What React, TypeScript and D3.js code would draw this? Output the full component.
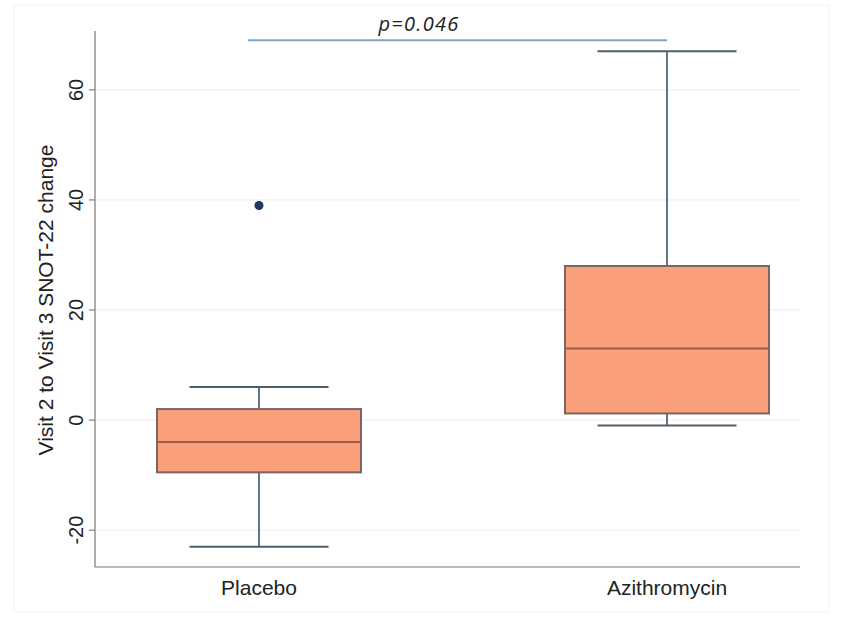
import React from "react";
import * as d3 from "d3";

const categories = ["Placebo", "Azithromycin"];
const whiskerLow = [-23, -1];
const q1 = [-9.5, 1.2];
const median = [-4, 13];
const q3 = [2, 28];
const whiskerHigh = [6, 67];
const outliers: [string, number][] = [["Placebo", 39]];
const yTicks = [-20, 0, 20, 40, 60];
const pValueLabel = "p=0.046";
const pValueLevel = 69;
const yLabel = "Visit 2 to Visit 3 SNOT-22 change";

const W = 843;
const H = 620;
const left = 95;
const right = 800;
const top = 31;
const bottom = 567;

export default function App() {
  const y = d3.scaleLinear().domain([-26.7, 70.7]).range([bottom, top]);
  const x = d3.scalePoint<string>().domain(categories).range([259, 667]);
  const boxW = 204;
  const capW = 139;

  return (
    <svg
      width={W}
      height={H}
      style={{ position: "absolute", left: 0, top: 0, background: "#fff" }}
      fontFamily="'Liberation Sans', Arial, sans-serif"
    >
      <rect x={14} y={5} width={815} height={607} fill="#fff" stroke="#f2f2f2" strokeWidth={1} />
      {yTicks.map((t) => (
        <g key={t}>
          <line x1={left + 1} x2={right} y1={y(t)} y2={y(t)} stroke="#ececec" strokeWidth={1} />
          <line x1={left - 6} x2={left} y1={y(t)} y2={y(t)} stroke="#666" strokeWidth={1} />
          <text
            transform={`translate(${left - 12},${y(t)}) rotate(-90)`}
            textAnchor="middle"
            fontSize={20}
            fill="#222"
          >
            {t}
          </text>
        </g>
      ))}
      <line x1={left} x2={left} y1={top} y2={bottom} stroke="#777" strokeWidth={1.2} />
      <line x1={left} x2={right} y1={bottom} y2={bottom} stroke="#777" strokeWidth={1.2} />
      <text
        transform={`translate(${53},${300}) rotate(-90)`}
        textAnchor="middle"
        fontSize={21}
        fill="#222"
      >
        {yLabel}
      </text>
      {categories.map((c, i) => {
        const cx = x(c)!;
        return (
          <g key={c}>
            <line x1={cx} x2={cx} y1={y(whiskerHigh[i])} y2={y(q3[i])} stroke="#5f7585" strokeWidth={2} />
            <line x1={cx} x2={cx} y1={y(q1[i])} y2={y(whiskerLow[i])} stroke="#5f7585" strokeWidth={2} />
            <line x1={cx - capW / 2} x2={cx + capW / 2} y1={y(whiskerHigh[i])} y2={y(whiskerHigh[i])} stroke="#4f5f6a" strokeWidth={2} />
            <line x1={cx - capW / 2} x2={cx + capW / 2} y1={y(whiskerLow[i])} y2={y(whiskerLow[i])} stroke="#4f5f6a" strokeWidth={2} />
            <rect
              x={cx - boxW / 2}
              y={y(q3[i])}
              width={boxW}
              height={y(q1[i]) - y(q3[i])}
              fill="#f9a07b"
              stroke="#7d6660"
              strokeWidth={2}
            />
            <line x1={cx - boxW / 2} x2={cx + boxW / 2} y1={y(median[i])} y2={y(median[i])} stroke="#9e5a4c" strokeWidth={2} />
            <text x={cx} y={595} textAnchor="middle" fontSize={21} fill="#222">
              {c}
            </text>
          </g>
        );
      })}
      {outliers.map(([c, v], i) => (
        <circle key={i} cx={x(c)!} cy={y(v)} r={4.5} fill="#1e3a5c" />
      ))}
      <line
        x1={x(categories[0])! - 11}
        x2={x(categories[1])!}
        y1={y(pValueLevel)}
        y2={y(pValueLevel)}
        stroke="#7ba7c7"
        strokeWidth={2}
      />
      <text
        x={419}
        y={31}
        textAnchor="middle"
        fontSize={20}
        letterSpacing={1.3}
        fontStyle="italic"
        fontFamily="'Open Sans', 'Liberation Sans', sans-serif"
        fill="#222"
      >
        {pValueLabel}
      </text>
    </svg>
  );
}
